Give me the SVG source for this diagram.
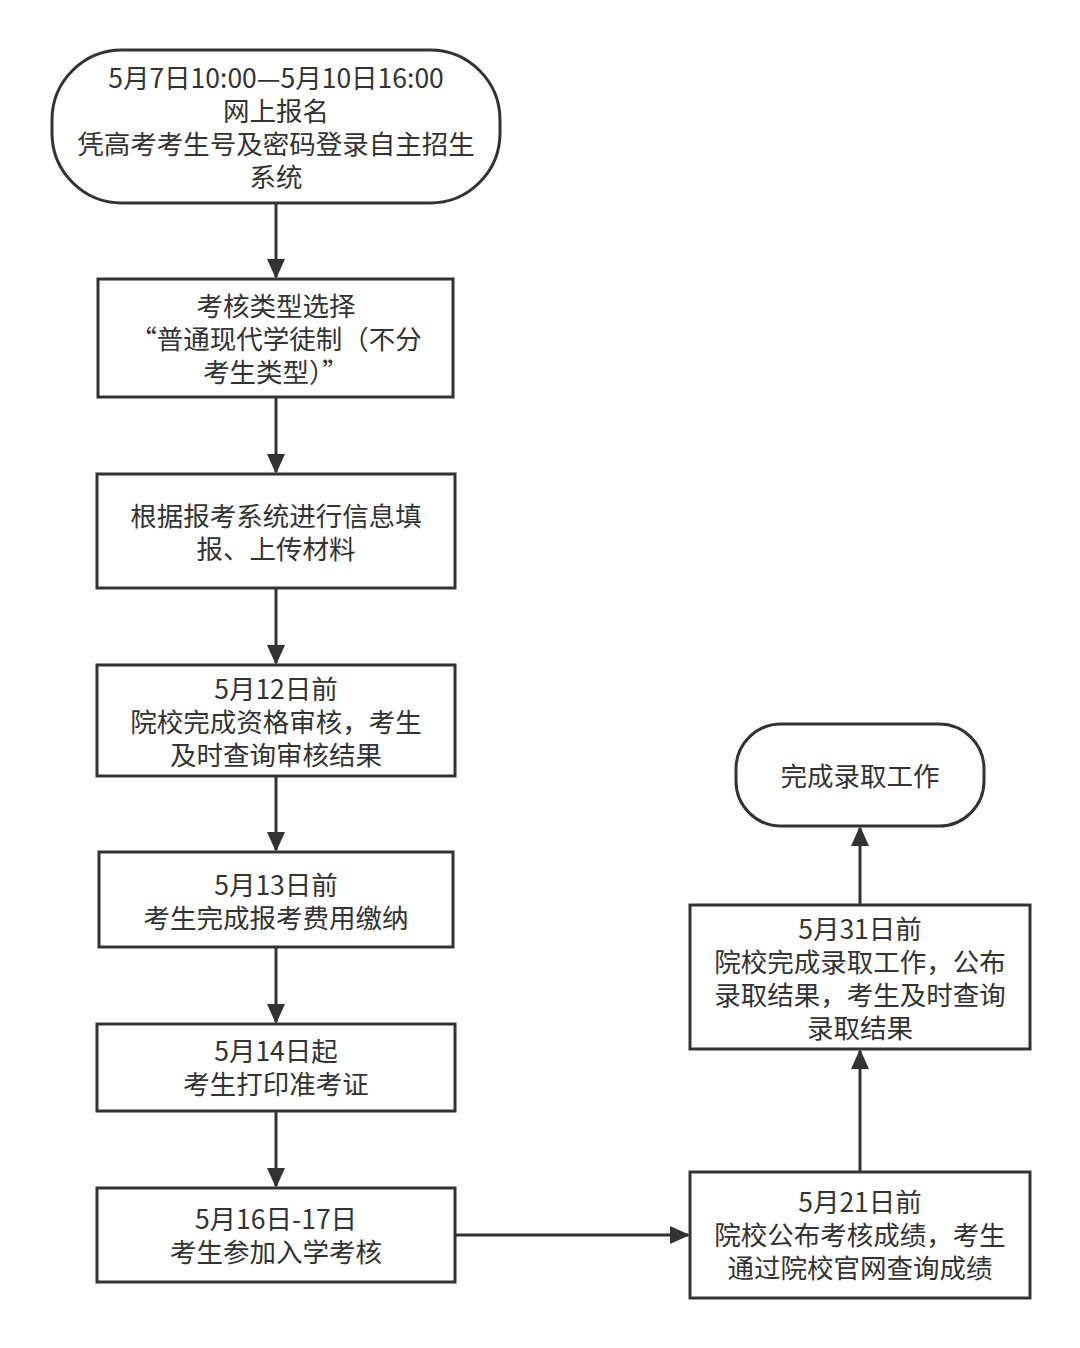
<svg xmlns="http://www.w3.org/2000/svg" width="1080" height="1348" viewBox="0 0 1080 1348">
<style>
.n{fill:#fff;stroke:#333;stroke-width:3}
.t{font-family:"Noto Sans CJK SC",sans-serif;font-size:26.5px;fill:#333;text-anchor:middle}
.c{stroke:#333;stroke-width:3;fill:none;marker-end:url(#a)}
</style>
<defs><marker id="a" markerWidth="20" markerHeight="20" refX="18" refY="10" orient="auto" markerUnits="userSpaceOnUse" viewBox="0 0 20 20"><path d="M0,1L20,10L0,19z" fill="#333"/></marker></defs>
<rect width="1080" height="1348" fill="#fff"/>
<g id="n1"><rect class="n" x="52" y="50" width="448" height="153" rx="70"/>
<text class="t" x="276" y="88">5月7日10:00—5月10日16:00</text><text class="t" x="276" y="121">网上报名</text><text class="t" x="276" y="154">凭高考考生号及密码登录自主招生</text><text class="t" x="276" y="187">系统</text></g>
<g id="n2"><rect class="n" x="98" y="279" width="355" height="118"/>
<text class="t" x="276" y="316">考核类型选择</text><text class="t" x="276" y="349">“普通现代学徒制（不分</text><text class="t" x="276" y="382">考生类型）”</text></g>
<g id="n3"><rect class="n" x="97" y="474" width="358" height="114"/>
<text class="t" x="276" y="526">根据报考系统进行信息填</text><text class="t" x="276" y="559">报、上传材料</text></g>
<g id="n4"><rect class="n" x="97" y="665" width="358" height="111"/>
<text class="t" x="276" y="699">5月12日前</text><text class="t" x="276" y="732">院校完成资格审核，考生</text><text class="t" x="276" y="765">及时查询审核结果</text></g>
<g id="n5"><rect class="n" x="99" y="852" width="354" height="95"/>
<text class="t" x="276" y="895">5月13日前</text><text class="t" x="276" y="928">考生完成报考费用缴纳</text></g>
<g id="n6"><rect class="n" x="97" y="1024" width="358" height="87"/>
<text class="t" x="276" y="1061">5月14日起</text><text class="t" x="276" y="1094">考生打印准考证</text></g>
<g id="n7"><rect class="n" x="97" y="1188" width="358" height="94"/>
<text class="t" x="276" y="1229">5月16日-17日</text><text class="t" x="276" y="1262">考生参加入学考核</text></g>
<g id="n8"><rect class="n" x="690" y="1172" width="340" height="126"/>
<text class="t" x="860" y="1212">5月21日前</text><text class="t" x="860" y="1245">院校公布考核成绩，考生</text><text class="t" x="860" y="1278">通过院校官网查询成绩</text></g>
<g id="n9"><rect class="n" x="690" y="905" width="340" height="144"/>
<text class="t" x="860" y="939">5月31日前</text><text class="t" x="860" y="972">院校完成录取工作，公布</text><text class="t" x="860" y="1005">录取结果，考生及时查询</text><text class="t" x="860" y="1038">录取结果</text></g>
<g id="n10"><rect class="n" x="736" y="724" width="248" height="102" rx="45"/>
<text class="t" x="860" y="786">完成录取工作</text></g>
<g id="connectors">
<path class="c" d="M276,203V277"/><path class="c" d="M276,397V472"/><path class="c" d="M276,588V663"/><path class="c" d="M276,776V850"/><path class="c" d="M276,947V1022"/><path class="c" d="M276,1111V1186"/>
<path class="c" d="M455,1235H688"/><path class="c" d="M860,1172V1051"/><path class="c" d="M860,905V828"/>
</g>
</svg>
